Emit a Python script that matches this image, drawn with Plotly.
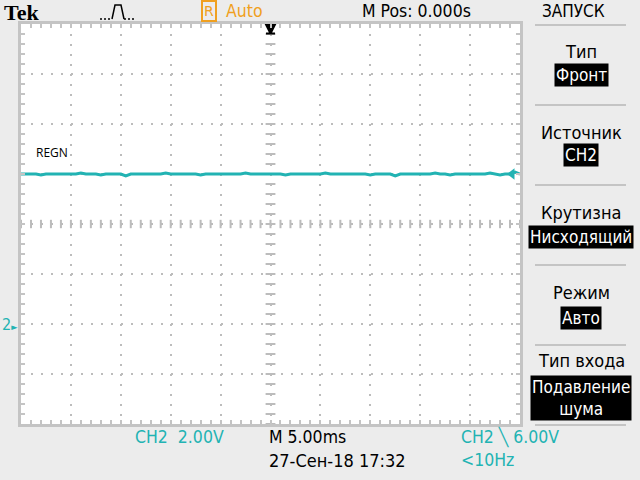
import numpy as np
import plotly.graph_objects as go

# screen geometry of the scope capture (pixels)
W, H = 640, 480
X0, X1, Y0, Y1 = 21, 520, 24, 424  # graticule edges

# CH2 sampled trace, volts (2.00 V/div, 5.00 ms/div)
time_ms = np.linspace(-25, 25, 101)
ch2_volts = [
    6.00, 6.00, 6.00, 6.00, 5.96, 6.00, 6.00, 6.00, 6.00, 6.00,
    6.00, 6.00, 6.04, 6.00, 6.00, 6.00, 5.96, 6.00, 6.00, 6.00,
    6.00, 5.92, 6.00, 6.00, 6.00, 6.00, 6.00, 6.00, 6.00, 6.04,
    6.00, 6.00, 6.00, 6.00, 6.00, 6.00, 5.96, 6.00, 6.00, 6.00,
    6.00, 6.00, 6.00, 6.00, 6.00, 6.04, 6.00, 6.00, 6.00, 6.00,
    6.00, 6.00, 6.00, 5.96, 6.00, 6.00, 6.00, 6.00, 6.00, 6.00,
    6.00, 6.04, 6.00, 6.00, 6.00, 6.00, 6.00, 6.00, 6.00, 6.00,
    5.96, 6.00, 6.00, 6.00, 6.00, 5.92, 6.00, 6.00, 6.00, 6.00,
    6.00, 6.00, 6.00, 6.04, 6.00, 6.00, 5.96, 6.00, 6.00, 6.00,
    6.00, 6.00, 6.00, 6.00, 6.04, 6.00, 5.96, 6.00, 6.00, 6.08,
    6.00,
]
trig_level = 6.00

menu_title = "ЗАПУСК"
menu_items = [
    ("Тип", "Фронт"),
    ("Источник", "CH2"),
    ("Крутизна", "Нисходящий"),
    ("Режим", "Авто"),
    ("Тип входа", "Подавление<br>шума"),
]

TEAL = "#22b3b3"
GRID = "#bcbcbc"
FONT = "DejaVu Sans Condensed, Liberation Sans Narrow, Liberation Sans, sans-serif"


def px(x):
    return x / W


def py(y):
    return (H - y) / H


fig = go.Figure()

# center crosshair ticks
fig.add_trace(go.Scatter(
    x=np.arange(-25, 25.1, 1), y=np.full(51, 4.0), mode="markers",
    marker=dict(symbol="line-ns-open", size=6, color=GRID,
                line=dict(color=GRID, width=2)),
    hoverinfo="skip",
))
fig.add_trace(go.Scatter(
    x=np.zeros(41), y=np.arange(-4, 12.01, 0.4), mode="markers",
    marker=dict(symbol="line-ew-open", size=7, color=GRID,
                line=dict(color=GRID, width=2)),
    hoverinfo="skip",
))

fig.add_trace(go.Scatter(
    x=time_ms, y=ch2_volts, mode="lines",
    line=dict(color=TEAL, width=3),
))

# trigger position and trigger level markers
fig.add_trace(go.Scatter(
    x=[0], y=[11.62], mode="markers", cliponaxis=False,
    marker=dict(symbol="arrow-bar-down", size=9, color="black",
                line=dict(color="black", width=2)),
))
fig.add_trace(go.Scatter(
    x=[24.2], y=[trig_level], mode="markers", cliponaxis=False,
    marker=dict(symbol="triangle-left", size=10, color=TEAL),
))

axis_common = dict(
    showline=True, linecolor="#c4c4c4", linewidth=3, mirror="allticks",
    ticks="inside", ticklen=4, tickwidth=2, tickcolor="#c4c4c4",
    showticklabels=False, zeroline=False, automargin=False,
    showgrid=True, gridcolor=GRID, gridwidth=2, griddash="2px,8px",
)
fig.update_xaxes(range=[-25, 25], dtick=5, tick0=0, domain=[px(X0), px(X1)],
                 minor=dict(dtick=1, ticks="inside", ticklen=4, tickcolor="#c4c4c4",
                            showgrid=False),
                 **axis_common)
fig.update_yaxes(range=[-4, 12], dtick=2, tick0=0, domain=[py(Y1), py(Y0)],
                 minor=dict(dtick=0.4, ticks="inside", ticklen=4, tickcolor="#c4c4c4",
                            showgrid=False),
                 **axis_common)

ann = []


def text(x, y, s, size=15, color="black", family=FONT, xanchor="left", **kw):
    ann.append(dict(x=px(x), y=py(y), xref="paper", yref="paper", text=s,
                    showarrow=False, xanchor=xanchor, yanchor="middle",
                    font=dict(size=size, color=color, family=family), **kw))


# top bar
text(2, 12, "<b>Tek</b>", size=22, family="Liberation Serif, DejaVu Serif, serif")
text(201, 11, "R", size=14, color="#f0a020", family="DejaVu Sans",
     bordercolor="#f0a020", borderwidth=2, borderpad=1)
text(224, 11, "Auto", size=17.5, color="#f0a020")
text(360, 11, "M Pos: 0.000s", size=17.5)
text(573, 11, menu_title, size=17, xanchor="center")

# bottom status lines
text(133, 437, "CH2  2.00V", size=17.5, color=TEAL)
text(267, 437, "M 5.00ms", size=17.5)
text(267, 460, "27-Сен-18 17:32", size=18)
text(459, 437, "CH2 ╲ 6.00V", size=17.5, color=TEAL)
text(459, 460, "<10Hz", size=17.5, color=TEAL)

# channel label and ground marker
text(34, 152, "REGN", size=12, family="Open Sans, sans-serif")
text(0, 325, "2<span style='font-size:9px'>►</span>", size=16, color=TEAL)

# trigger menu
title_y = [52, 132, 212, 292, 360]
box_y = [75, 155, 237, 318, 398]
for (title, value), ty, by in zip(menu_items, title_y, box_y):
    text(581, ty, title, size=18, xanchor="center")
    text(581, by, value, size=17, color="white", xanchor="center",
         bgcolor="black", borderpad=1)

shapes = []
for sy in [25, 105, 185, 265, 345, 425]:
    shapes.append(dict(type="line", xref="paper", yref="paper",
                       x0=px(535), x1=px(626), y0=py(sy), y1=py(sy),
                       line=dict(color="#c4c4c4", width=2)))

# pulse icon in the top bar: dotted baseline with a solid pulse
for xa, xb in [(100, 112), (124, 136)]:
    shapes.append(dict(type="line", xref="paper", yref="paper",
                       x0=px(xa), x1=px(xb), y0=py(19), y1=py(19),
                       line=dict(color="black", width=1.5, dash="2px,2px")))
pulse = "M {},{} L {},{} L {},{} L {},{}".format(
    px(112), py(19), px(115), py(5), px(121), py(5), px(124), py(19))
shapes.append(dict(type="path", xref="paper", yref="paper", path=pulse,
                   line=dict(color="black", width=1.5)))

fig.update_layout(
    width=W, height=H,
    margin=dict(l=0, r=0, t=0, b=0, autoexpand=False),
    paper_bgcolor="#ececec", plot_bgcolor="white",
    showlegend=False,
    annotations=ann, shapes=shapes,
)

fig.write_html("out.html", config={"displayModeBar": False},
               post_script="document.body.style.margin='0px';")
